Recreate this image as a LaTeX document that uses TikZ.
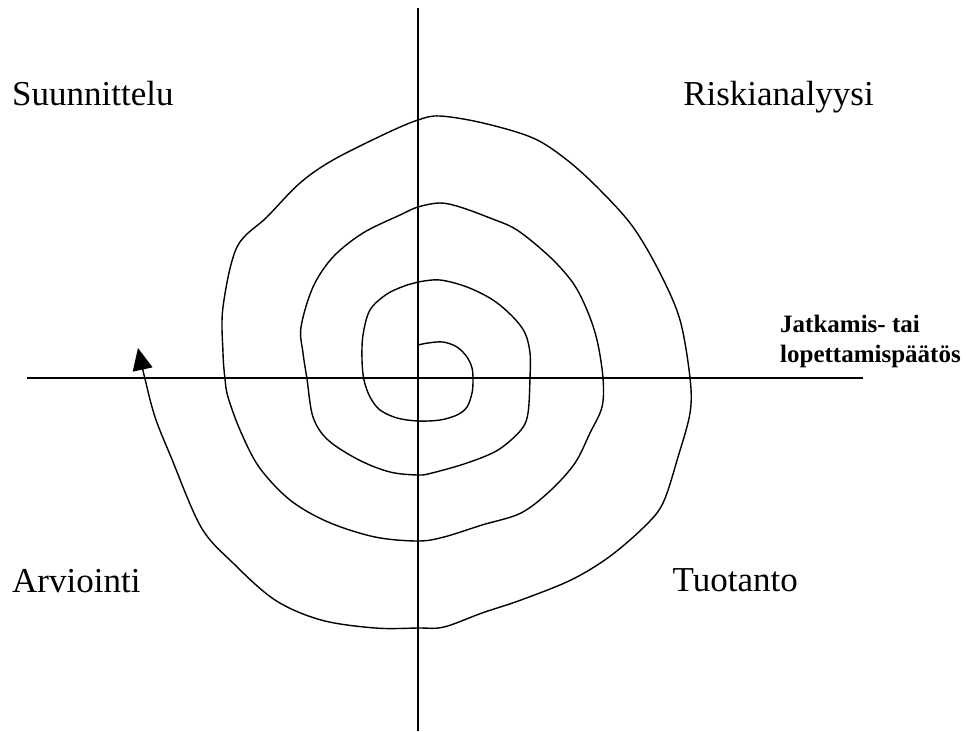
\documentclass[tikz,border=0pt]{standalone}
\usepackage{fontspec}
\setmainfont{Liberation Serif}
\usetikzlibrary{arrows.meta}

\begin{document}
\begin{tikzpicture}[
    x=1pt, y=-1pt,
    axis/.style={
        draw=black,
        line width=1.3pt
    },
    spiral/.style={
        draw=black,
        line width=1.4pt,
        -{Triangle[length=22pt, width=20pt]}
    },
    phase/.style={
        inner sep=0pt,
        font=\fontsize{35}{40}\selectfont
    },
    decision/.style={
        inner sep=0pt,
        anchor=base west,
        font=\fontsize{25}{30}\selectfont\bfseries
    }
]

% Canvas
\useasboundingbox (0,0) rectangle (966,731);

% Axes
\coordinate (top) at (418,8);
\coordinate (bottom) at (418,731);
\coordinate (left) at (27,378);
\coordinate (right) at (863,378);
\draw[axis] (top) -- (bottom);
\draw[axis] (left) -- (right);

% Quadrant labels
\node[phase, anchor=base west] (plan) at (12,105) {Suunnittelu};
\node[phase, anchor=base east] (risk) at (874,105) {Riskianalyysi};
\node[phase, anchor=base west] (eval) at (12,592) {Arviointi};
\node[phase, anchor=base east] (prod) at (798,591) {Tuotanto};

% Decision label
\node[decision] (decA) at (780,332) {Jatkamis- tai};
\node[decision] (decB) at (780,362) {lopettamispäätös};

% Spiral
\draw[spiral] plot[smooth, tension=0.55] coordinates {
    (418,345) (428,343) (443,342) (457,347) (467,357) (472,368) (473,380)
    (472,393) (467,407) (457,415) (440,420) (418,421) (397,418) (380,410)
    (370,397) (364,380) (362,360) (363,335) (370,310) (387,294) (407,285)
    (418,282) (440,280) (467,287) (493,300) (513,317) (525,333) (530,353)
    (530,378) (528,413) (521,430) (498,450) (467,463) (432,473) (418,475)
    (390,472) (359,460) (328,440) (313,417) (307,379) (303,353) (301,327)
    (313,287) (333,257) (363,233) (400,215) (418,207) (440,203) (460,207)
    (490,218) (517,230) (550,257) (573,283) (587,310) (597,340) (603,378)
    (602,407) (590,433) (575,463) (551,490) (521,513) (482,525) (444,537)
    (418,541) (375,537) (328,522) (290,500) (259,467) (240,430) (228,397)
    (225,379) (223,353) (223,307) (237,247) (267,217) (300,183) (333,160)
    (387,133) (418,120) (440,116) (483,123) (533,138) (567,160) (600,190)
    (633,227) (660,273) (680,320) (690,378) (690,413) (678,457) (663,503)
    (644,527) (609,557) (571,580) (521,600) (482,613) (444,627) (418,628)
    (375,628) (321,620) (275,600) (233,563) (201,527) (171,457) (155,417)
    (145,379) (138,348)
};

\end{tikzpicture}
\end{document}
